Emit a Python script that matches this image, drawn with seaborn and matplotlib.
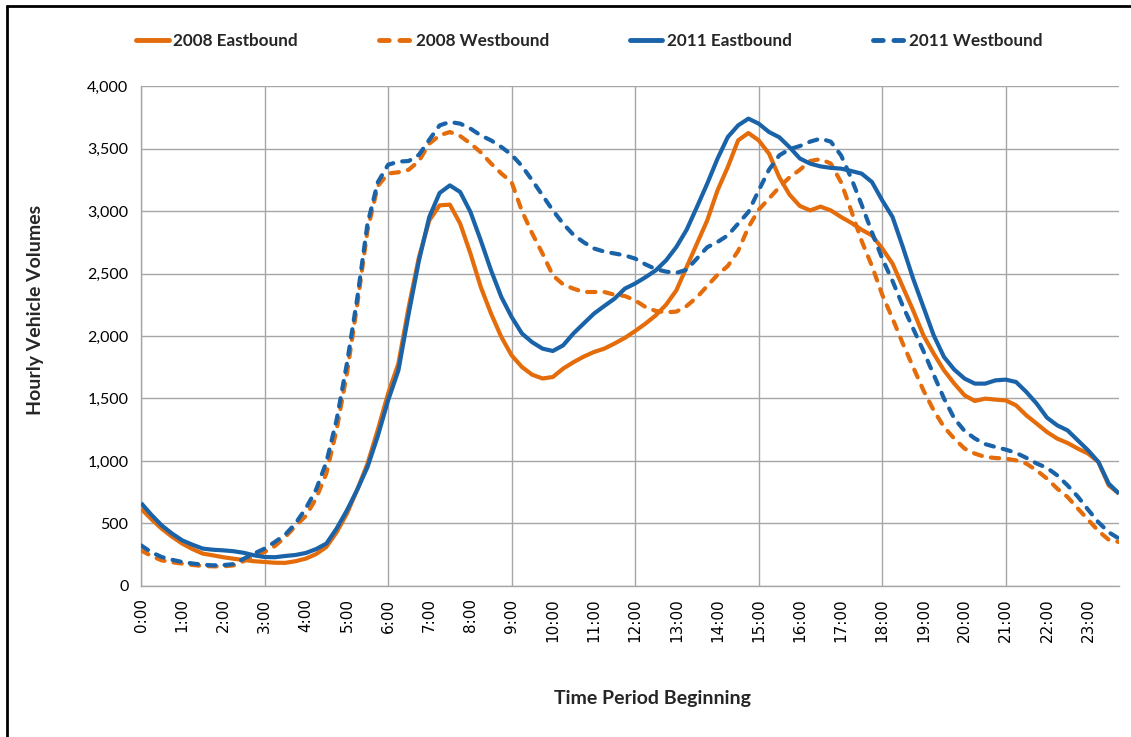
import numpy as np
import pandas as pd
import matplotlib
matplotlib.use("Agg")
import matplotlib.pyplot as plt
import seaborn as sns
from matplotlib.lines import Line2D

# ---------------------------------------------------------------------
# DATA (15-minute volumes, 0:00 .. 23:45, one row per hour)
# ---------------------------------------------------------------------
eb_2008 = [
    619, 535, 459, 395,  339, 295, 259, 245,  230, 218, 208, 198,
    192, 186, 185, 198,  219, 255, 312, 430,  579, 770, 979, 1250,
    1540, 1780, 2232, 2632,  2925, 3045, 3051, 2899,  2659, 2392, 2179, 1992,
    1845, 1752, 1690, 1660,  1672, 1739, 1790, 1835,  1872, 1899, 1940, 1985,
    2040, 2099, 2165, 2250,  2365, 2552, 2739, 2925,  3165, 3352, 3565, 3624,
    3565, 3459, 3270, 3130,  3040, 3005, 3035, 3005,  2952, 2905, 2850, 2805,
    2700, 2579, 2392, 2205,  2005, 1859, 1725, 1619,  1525, 1480, 1499, 1491,
    1485, 1445, 1365, 1299,  1232, 1179, 1144, 1099,  1059, 992, 805, 739,
]
wb_2008 = [
    285, 240, 205, 190,  179, 168, 160, 157,  157, 165, 200, 240,
    272, 320, 390, 480,  560, 700, 900, 1250,  1700, 2250, 2845, 3200,
    3300, 3310, 3330, 3400,  3539, 3605, 3632, 3600,  3540, 3470, 3380, 3300,
    3230, 3000, 2820, 2659,  2485, 2413, 2379, 2352,  2352, 2352, 2330, 2320,
    2285, 2232, 2200, 2190,  2195, 2240, 2310, 2400,  2490, 2560, 2680, 2870,
    3010, 3100, 3190, 3270,  3330, 3400, 3415, 3380,  3230, 3000, 2760, 2560,
    2330, 2140, 1939, 1752,  1565, 1405, 1272, 1179,  1099, 1059, 1032, 1024,
    1019, 1005, 979, 925,  859, 779, 712, 620,  530, 440, 370, 352,
]
eb_2011 = [
    664, 570, 485, 420,  365, 330, 299, 290,  285, 278, 265, 245,
    232, 230, 240, 248,  264, 295, 339, 460,  605, 770, 952, 1200,
    1485, 1725, 2179, 2605,  2952, 3144, 3205, 3152,  2992, 2765, 2525, 2312,
    2152, 2020, 1950, 1899,  1880, 1925, 2020, 2100,  2179, 2240, 2299, 2379,
    2420, 2470, 2525, 2605,  2712, 2850, 3032, 3219,  3419, 3592, 3685, 3739,
    3699, 3632, 3590, 3510,  3420, 3379, 3357, 3345,  3339, 3320, 3299, 3232,
    3085, 2952, 2712, 2459,  2232, 2005, 1832, 1731,  1659, 1619, 1619, 1645,
    1651, 1632, 1552, 1459,  1347, 1285, 1245, 1165,  1085, 992, 819, 739,
]
wb_2011 = [
    325, 270, 232, 210,  192, 180, 170, 165,  167, 175, 219, 260,
    299, 352, 410, 500,  620, 770, 990, 1330,  1780, 2300, 2899, 3230,
    3370, 3395, 3400, 3450,  3570, 3685, 3712, 3699,  3659, 3605, 3565, 3512,
    3450, 3360, 3245, 3125,  3005, 2899, 2810, 2750,  2700, 2675, 2660, 2645,
    2619, 2573, 2535, 2515,  2505, 2530, 2620, 2710,  2752, 2805, 2899, 2992,
    3165, 3330, 3445, 3495,  3520, 3555, 3579, 3555,  3445, 3260, 3050, 2830,
    2620, 2440, 2240, 2060,  1880, 1690, 1500, 1340,  1240, 1180, 1135, 1112,
    1091, 1065, 1025, 980,  945, 885, 805, 715,  610, 510, 430, 379,
]

series_names = ["2008 Eastbound", "2008 Westbound", "2011 Eastbound", "2011 Westbound"]
hours = np.arange(96) / 4.0
hour_labels = [f"{h}:00" for h in range(24)]
y_ticks = list(range(0, 4001, 500))

ORANGE = "#E46C0A"
BLUE = "#1A63A8"
GRID = "#A6A6A6"

df = pd.DataFrame({
    "Hour": np.tile(hours, 4),
    "Volume": eb_2008 + wb_2008 + eb_2011 + wb_2011,
    "Series": np.repeat(series_names, 96),
})

# ---------------------------------------------------------------------
# PLOT
# ---------------------------------------------------------------------
sns.set_style("white")
plt.rcParams["font.family"] = ["Lato", "DejaVu Sans"]

fig = plt.figure(figsize=(11.31, 7.37), dpi=100)
ax = fig.add_axes([0.1247, 0.2049, 0.8647, 0.6784])

palette = {"2008 Eastbound": ORANGE, "2008 Westbound": ORANGE,
           "2011 Eastbound": BLUE, "2011 Westbound": BLUE}
dashes = {"2008 Eastbound": "", "2008 Westbound": (2, 2.2),
          "2011 Eastbound": "", "2011 Westbound": (2, 2.2)}

sns.lineplot(data=df, x="Hour", y="Volume", hue="Series", style="Series",
             palette=palette, dashes=dashes, linewidth=3.0, ax=ax,
             legend=False, zorder=3)
for line in ax.get_lines():
    line.set_dash_capstyle("round")
    line.set_solid_capstyle("butt")

ax.set_xlim(0, 23.75)
ax.set_ylim(0, 4000)
ax.set_xticks(range(24))
ax.set_xticklabels(hour_labels, rotation=90, family="DejaVu Sans", fontsize=11)
ax.set_yticks(y_ticks)
ax.set_yticklabels([f"{v:,}" for v in y_ticks], fontsize=11.5)

ax.yaxis.grid(True, color=GRID, linewidth=1)
for h in range(0, 24, 3):
    ax.axvline(h, color=GRID, linewidth=1, zorder=0)
ax.set_axisbelow(True)

for side in ["top", "right"]:
    ax.spines[side].set_visible(False)
for side in ["left", "bottom"]:
    ax.spines[side].set_color(GRID)
    ax.spines[side].set_linewidth(1)
ax.tick_params(axis="both", direction="out", length=5, width=1, color=GRID,
               labelcolor="black", pad=4)

ax.set_xlabel("Time Period Beginning", fontsize=14, fontweight="bold")
ax.set_ylabel("Hourly Vehicle Volumes", fontsize=14, fontweight="bold")
ax.xaxis.set_label_coords(0.5225, -0.208)
ax.yaxis.set_label_coords(-0.099, 0.552)

handles = [Line2D([0], [0], color=palette[n], lw=3.5,
                  dashes=dashes[n] if dashes[n] else (None, None),
                  dash_capstyle="round")
           for n in series_names]
fig.legend(handles, series_names, loc="center left", bbox_to_anchor=(0.107, 0.945),
           ncol=4, frameon=False, handlelength=1.9, handletextpad=0.25,
           columnspacing=4.75, prop={"family": "Lato", "weight": "bold", "size": 12.3})

# chart frame
fig.add_artist(Line2D([0.0062, 0.0062], [0, 0.992], color="black", lw=2,
                      transform=fig.transFigure))
fig.add_artist(Line2D([0.0062, 1], [0.992, 0.992], color="black", lw=2,
                      transform=fig.transFigure))

fig.savefig("out.png", dpi=100)
